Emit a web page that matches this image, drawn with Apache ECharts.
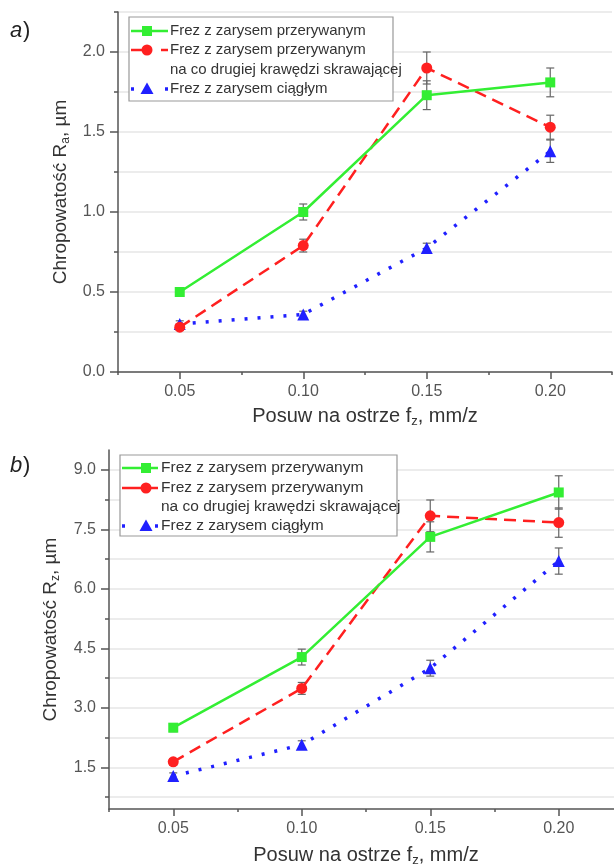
<!DOCTYPE html>
<html>
<head>
<meta charset="utf-8">
<script src="https://cdn.jsdelivr.net/npm/echarts@6/dist/echarts.min.js"></script>
<style>
html,body{margin:0;padding:0;background:#fff;}
#chart{width:614px;height:865px;}
</style>
</head>
<body>
<div id="chart"></div>
<script>
// ---- data ----
const feeds = [0.05, 0.10, 0.15, 0.20];
const seriesNames = ['Frez z zarysem przerywanym', 'Frez z zarysem przerywanym', 'Frez z zarysem ciągłym'];
const seriesNamesLine2 = ['', 'na co drugiej krawędzi skrawającej', ''];
const xTickLabels = ['0.05', '0.10', '0.15', '0.20'];
const raTickLabels = [0.0, 0.5, 1.0, 1.5, 2.0];
const rzTickLabels = [1.5, 3.0, 4.5, 6.0, 7.5, 9.0];

const raGreen = [0.50, 1.00, 1.73, 1.81];
const raGreenErr = [0.02, 0.05, 0.09, 0.09];
const raRed = [0.28, 0.79, 1.90, 1.53];
const raRedErr = [0.02, 0.04, 0.10, 0.075];
const raBlue = [0.30, 0.36, 0.775, 1.38];
const raBlueErr = [0.02, 0.02, 0.03, 0.07];

const rzGreen = [2.50, 4.28, 7.31, 8.43];
const rzGreenErr = [0.10, 0.20, 0.38, 0.42];
const rzRed = [1.64, 3.49, 7.84, 7.67];
const rzRedErr = [0.08, 0.15, 0.40, 0.37];
const rzBlue = [1.28, 2.07, 4.00, 6.70];
const rzBlueErr = [0.08, 0.10, 0.20, 0.33];

// ---- styling ----
const FONT = '"Liberation Sans", Arial, sans-serif';
const GREEN = '#33ee33', RED = '#ff2020', BLUE = '#2020ff';
const AXIS = '#555';
const GRIDC = '#e6e6e6';

const pairs = (ys) => feeds.map((x, i) => [x, ys[i]]);
const errs = (ys, es) => feeds.map((x, i) => [x, ys[i] - es[i], ys[i] + es[i]]);
const isMajorX = (v) => Math.abs(v * 20 - Math.round(v * 20)) < 1e-6;

function errorSeries(ys, es, xi, yi) {
  return {
    type: 'custom', xAxisIndex: xi, yAxisIndex: yi, z: 1, silent: true,
    data: errs(ys, es),
    encode: { x: 0, y: [1, 2] },
    renderItem: function (params, api) {
      const x = api.value(0);
      const lo = api.coord([x, api.value(1)]);
      const hi = api.coord([x, api.value(2)]);
      const w = 4;
      const st = { stroke: '#666', lineWidth: 1.2 };
      return { type: 'group', children: [
        { type: 'line', shape: { x1: lo[0], y1: lo[1], x2: hi[0], y2: hi[1] }, style: st },
        { type: 'line', shape: { x1: lo[0] - w, y1: lo[1], x2: lo[0] + w, y2: lo[1] }, style: st },
        { type: 'line', shape: { x1: hi[0] - w, y1: hi[1], x2: hi[0] + w, y2: hi[1] }, style: st }
      ]};
    }
  };
}

function lineSeries(name, ys, color, kind, xi, yi) {
  const ls = { color: color, width: 2.5 };
  let symbol = 'rect', size = 10;
  if (kind === 'dash') { ls.type = [12, 7]; symbol = 'circle'; size = 11; }
  if (kind === 'dot') { ls.type = [3, 10]; ls.width = 3.5; symbol = 'triangle'; size = 12; }
  return {
    type: 'line', name: name, xAxisIndex: xi, yAxisIndex: yi, z: 3,
    data: pairs(ys), symbol: symbol, symbolSize: size,
    itemStyle: { color: color }, lineStyle: ls, animation: false
  };
}

function xAxes(gridIndex, nameGap) {
  return [
    { type: 'value', gridIndex: gridIndex, min: 0.025, max: 0.225, interval: 0.025,
      name: 'Posuw na ostrze f{sub|z}, mm/z', nameLocation: 'middle', nameGap: nameGap,
      nameTextStyle: { fontFamily: FONT, fontSize: 20, color: '#333',
        rich: { sub: { fontFamily: FONT, fontSize: 13, color: '#333', padding: [10, 0, 0, 0] } } },
      axisLine: { lineStyle: { color: AXIS, width: 1.5 } },
      axisTick: { length: 3, lineStyle: { color: AXIS, width: 1.5 } },
      axisLabel: { margin: 12, fontFamily: FONT, fontSize: 16, color: '#555',
        formatter: (v) => (isMajorX(v) && v > 0.03 ? xTickLabels[Math.round(v * 20) - 1] : '') },
      splitLine: { show: false } },
    { type: 'value', gridIndex: gridIndex, min: 0.025, max: 0.225, position: 'bottom',
      axisLine: { show: false }, axisLabel: { show: false }, splitLine: { show: false },
      axisTick: { customValues: feeds, length: 7, lineStyle: { color: AXIS, width: 1.5 } } }
  ];
}

function yAxisName(sub) {
  return 'Chropowatość R{sub|' + sub + '}, µm';
}
const yNameStyle = { fontFamily: FONT, fontSize: 19, color: '#333',
  rich: { sub: { fontFamily: FONT, fontSize: 12, color: '#333', padding: [10, 0, 0, 0] } } };

const option = {
  animation: false,
  backgroundColor: '#fff',
  grid: [
    { left: 118, top: 12, width: 494, height: 360, outerBoundsMode: 'none', containLabel: false },
    { left: 109, top: 450, width: 514, height: 359, outerBoundsMode: 'none', containLabel: false }
  ],
  xAxis: [].concat(xAxes(0, 33), xAxes(1, 35)),
  yAxis: [
    { type: 'value', gridIndex: 0, min: 0, max: 2.25, interval: 0.25, position: 'left',
      name: yAxisName('a'), nameLocation: 'middle', nameRotate: 90, nameGap: 46, nameTextStyle: yNameStyle,
      axisLine: { show: true, lineStyle: { color: AXIS, width: 1.5 } },
      axisTick: { show: true, length: 4, lineStyle: { color: AXIS, width: 1.5 } },
      axisLabel: { margin: 13, fontFamily: FONT, fontSize: 16, color: '#555',
        formatter: (v) => (raTickLabels.some(t => Math.abs(t - v) < 1e-6) ? v.toFixed(1) : '') },
      splitLine: { show: true, lineStyle: { color: GRIDC, width: 1.5 } } },
    { type: 'value', gridIndex: 0, min: 0, max: 2.25, position: 'left',
      axisLine: { show: false }, axisLabel: { show: false }, splitLine: { show: false },
      axisTick: { show: true, customValues: raTickLabels, length: 8, lineStyle: { color: AXIS, width: 1.5 } } },
    { type: 'value', gridIndex: 1, min: 0.45, max: 9.5, position: 'left',
      name: yAxisName('z'), nameLocation: 'middle', nameRotate: 90, nameGap: 47, nameTextStyle: yNameStyle,
      axisLine: { show: true, lineStyle: { color: AXIS, width: 1.5 } },
      axisTick: { show: true, customValues: [0.75, 1.5, 2.25, 3.0, 3.75, 4.5, 5.25, 6.0, 6.75, 7.5, 8.25, 9.0],
        length: 4, lineStyle: { color: AXIS, width: 1.5 } },
      axisLabel: { margin: 13, fontFamily: FONT, fontSize: 16, color: '#555',
        customValues: rzTickLabels, formatter: (v) => v.toFixed(1) },
      splitLine: { show: true, lineStyle: { color: GRIDC, width: 1.5 } } },
    { type: 'value', gridIndex: 1, min: 0.45, max: 9.5, position: 'left',
      axisLine: { show: false }, axisLabel: { show: false }, splitLine: { show: false },
      axisTick: { show: true, customValues: rzTickLabels, length: 8, lineStyle: { color: AXIS, width: 1.5 } } }
  ],
  series: [
    errorSeries(raGreen, raGreenErr, 0, 0),
    errorSeries(raRed, raRedErr, 0, 0),
    errorSeries(raBlue, raBlueErr, 0, 0),
    lineSeries(seriesNames[2], raBlue, BLUE, 'dot', 0, 0),
    lineSeries(seriesNames[1], raRed, RED, 'dash', 0, 0),
    lineSeries(seriesNames[0], raGreen, GREEN, 'solid', 0, 0),
    errorSeries(rzGreen, rzGreenErr, 2, 2),
    errorSeries(rzRed, rzRedErr, 2, 2),
    errorSeries(rzBlue, rzBlueErr, 2, 2),
    lineSeries(seriesNames[2], rzBlue, BLUE, 'dot', 2, 2),
    lineSeries(seriesNames[1], rzRed, RED, 'dash', 2, 2),
    lineSeries(seriesNames[0], rzGreen, GREEN, 'solid', 2, 2)
  ],
  graphic: []
};

// legend boxes drawn as graphics (texts come from the name arrays)
function legend(x0, y0, w, h, rows, lineX1, lineX2, markX, textX, fs) {
  const g = [];
  g.push({ type: 'rect', shape: { x: x0, y: y0, width: w, height: h },
    style: { fill: '#fff', stroke: '#999', lineWidth: 1.2 }, z: 100 });
  const tf = { fontFamily: FONT, fontSize: fs, fill: '#333', verticalAlign: 'middle' };
  // green
  g.push({ type: 'line', shape: { x1: lineX1, y1: rows[0], x2: lineX2, y2: rows[0] }, style: { stroke: GREEN, lineWidth: 2.5 }, z: 101 });
  g.push({ type: 'rect', shape: { x: markX - 5, y: rows[0] - 5, width: 10, height: 10 }, style: { fill: GREEN }, z: 102 });
  g.push({ type: 'text', x: textX, y: rows[0], style: Object.assign({ text: seriesNames[0] }, tf), z: 102 });
  // red
  g.push({ type: 'line', shape: { x1: lineX1, y1: rows[1], x2: markX - 4, y2: rows[1] }, style: { stroke: RED, lineWidth: 2.5 }, z: 101 });
  g.push({ type: 'line', shape: { x1: lineX2 - 7, y1: rows[1], x2: lineX2, y2: rows[1] }, style: { stroke: RED, lineWidth: 2.5 }, z: 101 });
  g.push({ type: 'circle', shape: { cx: markX, cy: rows[1], r: 5.5 }, style: { fill: RED }, z: 102 });
  g.push({ type: 'text', x: textX, y: rows[1], style: Object.assign({ text: seriesNames[1] }, tf), z: 102 });
  g.push({ type: 'text', x: textX, y: rows[2], style: Object.assign({ text: seriesNamesLine2[1] }, tf), z: 102 });
  // blue
  g.push({ type: 'line', shape: { x1: lineX1, y1: rows[3], x2: lineX1 + 3, y2: rows[3] }, style: { stroke: BLUE, lineWidth: 3.5 }, z: 101 });
  g.push({ type: 'line', shape: { x1: lineX2 - 3, y1: rows[3], x2: lineX2, y2: rows[3] }, style: { stroke: BLUE, lineWidth: 3.5 }, z: 101 });
  g.push({ type: 'polygon', shape: { points: [[markX, rows[3] - 6.5], [markX - 6.5, rows[3] + 5], [markX + 6.5, rows[3] + 5]] }, style: { fill: BLUE }, z: 102 });
  g.push({ type: 'text', x: textX, y: rows[3], style: Object.assign({ text: seriesNames[2] }, tf), z: 102 });
  return g;
}

option.graphic = [].concat(
  legend(129, 17, 264, 84, [31, 50, 70, 89], 131, 168, 147, 170, 15),
  legend(120, 455, 277, 81, [468, 488, 507, 526], 122, 158, 146, 161, 15.5),
  [
    { type: 'text', x: 10, y: 31, style: { text: 'a', fontFamily: FONT, fontSize: 22, fontStyle: 'italic', fill: '#222', verticalAlign: 'middle' } },
    { type: 'text', x: 23, y: 31, style: { text: ')', fontFamily: FONT, fontSize: 22, fill: '#222', verticalAlign: 'middle' } },
    { type: 'text', x: 10, y: 466, style: { text: 'b', fontFamily: FONT, fontSize: 22, fontStyle: 'italic', fill: '#222', verticalAlign: 'middle' } },
    { type: 'text', x: 23, y: 466, style: { text: ')', fontFamily: FONT, fontSize: 22, fill: '#222', verticalAlign: 'middle' } }
  ]
);

const chart = echarts.init(document.getElementById('chart'), null, { renderer: 'canvas' });
chart.setOption(option);
</script>
</body>
</html>
